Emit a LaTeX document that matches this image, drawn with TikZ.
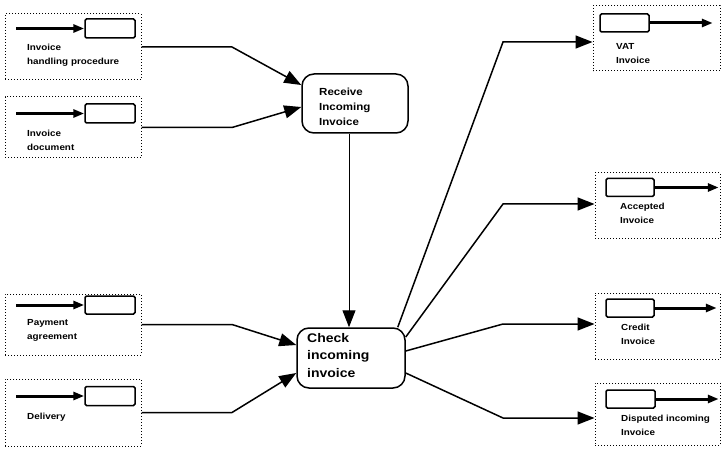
\documentclass[tikz,border=0pt]{standalone}
\usepackage{fontspec}
\setmainfont{Liberation Sans}[FakeStretch=1.12]
\usetikzlibrary{arrows.meta,calc}
\tikzset{
  dotbox/.style={draw, line width=1pt, dash pattern=on 1pt off 2pt, inner sep=0pt},
  objbox/.style={draw, line width=1.5pt, rounded corners=1.5pt, inner sep=0pt, minimum height=18pt},
  proc/.style={draw, line width=1.5pt, rounded corners=12pt, inner sep=0pt},
  flow/.style={line width=1.5pt, -{Triangle[length=17pt,width=13pt]}},
  objarrow/.style={line width=3pt, -{Triangle[length=11pt,width=8pt]}},
  lab/.style={font=\bfseries\fontsize{8.8}{14}\selectfont, align=left, anchor=west, inner sep=0pt},
  ptext/.style={align=left, anchor=west, inner sep=0pt}
}
\begin{document}
\begin{tikzpicture}[x=1pt,y=-1pt]
\useasboundingbox (0,0) rectangle (723,449);
% left dotted boxes
\node[dotbox, minimum width=136pt, minimum height=66pt] (b1) at (73,47) {};
\node[dotbox, minimum width=136pt, minimum height=61pt] (b2) at (73,127.5) {};
\node[dotbox, minimum width=136pt, minimum height=61pt] (b3) at (73,324.5) {};
\node[dotbox, minimum width=136pt, minimum height=67pt] (b4) at (73,412.5) {};
% left object rectangles
\node[objbox, minimum width=50pt, minimum height=19pt] (o1) at (110,28.5) {};
\node[objbox, minimum width=50pt, minimum height=19pt] (o2) at (110,113.5) {};
\node[objbox, minimum width=50pt] (o3) at (110,305) {};
\node[objbox, minimum width=50pt, minimum height=19pt] (o4) at (110,396) {};
\draw[objarrow] ([xshift=-68pt]o1.west) -- (o1.west);
\draw[objarrow] ([xshift=-68pt]o2.west) -- (o2.west);
\draw[objarrow] ([xshift=-68pt]o3.west) -- (o3.west);
\draw[objarrow] ([xshift=-68pt]o4.west) -- (o4.west);
% left labels
\node[lab] (l1) at (27,55) {Invoice\\handling procedure};
\node[lab] (l2) at (27,140) {Invoice\\document};
\node[lab] (l3) at (27,330.5) {Payment\\agreement};
\node[lab] (l4) at (27,417) {Delivery};
% right dotted boxes
\node[dotbox, minimum width=127pt, minimum height=65pt] (r1) at (656.5,38.5) {};
\node[dotbox, minimum width=125pt, minimum height=66pt] (r2) at (657.5,206) {};
\node[dotbox, minimum width=125pt, minimum height=66pt] (r3) at (657.5,326) {};
\node[dotbox, minimum width=125pt, minimum height=62pt] (r4) at (657.5,414) {};
% right object rectangles
\node[objbox, minimum width=49pt] (q1) at (624.5,23) {};
\node[objbox, minimum width=48pt] (q2) at (630,187.5) {};
\node[objbox, minimum width=48pt] (q3) at (630,308) {};
\node[objbox, minimum width=49pt] (q4) at (630.5,399) {};
\draw[objarrow] (q1.east) -- ([xshift=63pt]q1.east);
\draw[objarrow] (q2.east) -- ([xshift=64pt]q2.east);
\draw[objarrow] (q3.east) -- ([xshift=62pt]q3.east);
\draw[objarrow] (q4.east) -- ([xshift=63pt]q4.east);
% right labels
\node[lab] (m1) at (616,54) {VAT\\Invoice};
\node[lab] (m2) at (620,213.5) {Accepted\\Invoice};
\node[lab] (m3) at (621,334.5) {Credit\\Invoice};
\node[lab] (m4) at (621,425.5) {Disputed incoming\\Invoice};
% process nodes
\node[proc, minimum width=106pt, minimum height=59pt] (rec) at (355,103.5) {};
\node[ptext, font=\bfseries\fontsize{10.3}{15}\selectfont] (rect) at (319,106.5) {Receive\\Incoming\\Invoice};
\node[proc, minimum width=108pt, minimum height=60pt] (chk) at (351,358) {};
\node[ptext, font=\bfseries\fontsize{12.5}{17.5}\selectfont] (chkt) at (307,355.5) {Check\\incoming\\invoice};
% bend columns
\coordinate (bendL) at (232,0);
\coordinate (bendR) at (503,0);
% arrow tips
\coordinate (ti1) at ([yshift=18.5pt]rec.west);
\coordinate (ti2) at ([yshift=-3.5pt]rec.west);
\coordinate (ti3) at ([yshift=13pt]chk.west);
\coordinate (ti4) at ([yshift=-15pt]chk.west);
\coordinate (to1) at ([yshift=-3.5pt]r1.west);
\coordinate (to2) at ([yshift=2pt]r2.west);
\coordinate (to3) at ([yshift=2pt]r3.west);
\coordinate (to4) at ([yshift=-4pt]r4.west);
% incoming connectors
\draw[flow] (b1.east) -- (b1.east -| bendL) -- (ti1);
\draw[flow] (b2.east) -- (b2.east -| bendL) -- (ti2);
\draw[flow] (b3.east) -- (b3.east -| bendL) -- (ti3);
\draw[flow] (b4.east) -- (b4.east -| bendL) -- (ti4);
% receive -> check
\coordinate (rc) at ([xshift=-6pt]rec.south);
\draw[flow, line width=1pt] (rc) -- (rc |- chk.north);
% outgoing connectors
\coordinate (so1) at ([xshift=-8pt]chk.north east);
\coordinate (so2) at ([yshift=21pt]chk.east);
\coordinate (so3) at ([yshift=7pt]chk.east);
\coordinate (so4) at ([yshift=-15pt]chk.east);
\draw[flow] (so1) -- (to1 -| bendR) -- (to1);
\draw[flow] (so2) -- (to2 -| bendR) -- (to2);
\draw[flow] (so3) -- (to3 -| bendR) -- (to3);
\draw[flow] (so4) -- (to4 -| bendR) -- (to4);
\end{tikzpicture}
\end{document}
